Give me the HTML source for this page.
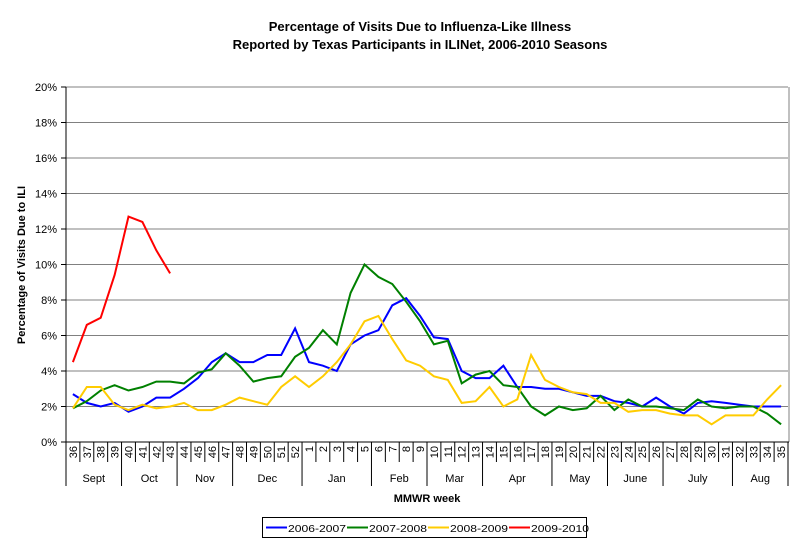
<!DOCTYPE html>
<html><head><meta charset="utf-8"><style>
body{margin:0;background:#fff;}
svg{display:block;font-family:"Liberation Sans",Arial,sans-serif;}
</style></head><body>
<svg id="c" width="800" height="545" xmlns="http://www.w3.org/2000/svg"></svg>
<script>
const s=document.getElementById('c');
const L=66,R=788,Y0=442,PX=17.75,W=(R-L)/52;
let h='';
h+='<text x="420" y="31" text-anchor="middle" font-size="13" font-weight="bold">Percentage of Visits Due to Influenza-Like Illness</text>';
h+='<text x="420" y="49" text-anchor="middle" font-size="13" font-weight="bold">Reported by Texas Participants in ILINet, 2006-2010 Seasons</text>';
for(let i=0;i<=10;i++){const y=Y0-i*2*PX;
 if(i>0)h+=`<line x1="${L}" x2="${R}" y1="${y}" y2="${y}" stroke="#808080" stroke-width="1"/>`;
 h+=`<line x1="${L-5}" x2="${L}" y1="${y}" y2="${y}" stroke="#000"/>`;
 h+=`<text x="${L-9}" y="${y+4}" text-anchor="end" font-size="11">${i*2}%</text>`;}
h+=`<line x1="${L}" x2="${L}" y1="87" y2="${Y0}" stroke="#000"/>`;
h+=`<line x1="${R+1}" x2="${R+1}" y1="87" y2="${Y0}" stroke="#808080"/>`;
h+=`<line x1="${L}" x2="${R+1}" y1="${Y0}" y2="${Y0}" stroke="#000"/>`;
h+='<text transform="translate(25,265) rotate(-90)" text-anchor="middle" font-size="11" font-weight="bold">Percentage of Visits Due to ILI</text>';
const wk=[];for(let w=36;w<=52;w++)wk.push(w);for(let w=1;w<=35;w++)wk.push(w);
const months=[['Sept',4],['Oct',4],['Nov',4],['Dec',5],['Jan',5],['Feb',4],['Mar',4],['Apr',5],['May',4],['June',4],['July',5],['Aug',4]];
let bounds=new Set([0]);let c=0;
months.forEach(m=>{const x0=L+c*W;c+=m[1];bounds.add(c);h+=`<text x="${x0+m[1]*W/2}" y="482" text-anchor="middle" font-size="11">${m[0]}</text>`;});
for(let i=0;i<=52;i++){const x=L+i*W;h+=`<line x1="${x}" x2="${x}" y1="${Y0}" y2="${bounds.has(i)?486:462}" stroke="#000"/>`;}
wk.forEach((w,i)=>{const x=L+(i+0.5)*W;h+=`<text transform="translate(${x+4},446) rotate(-90)" text-anchor="end" font-size="11">${w}</text>`;});
h+='<text x="427" y="502" text-anchor="middle" font-size="11" font-weight="bold">MMWR week</text>';
const D={
'#0000ff':[2.7,2.2,2.0,2.2,1.7,2.0,2.5,2.5,3.0,3.6,4.5,5.0,4.5,4.5,4.9,4.9,6.4,4.5,4.3,4.0,5.5,6.0,6.3,7.7,8.1,7.1,5.9,5.8,4.0,3.6,3.6,4.3,3.1,3.1,3.0,3.0,2.8,2.6,2.6,2.3,2.2,2.0,2.5,2.0,1.6,2.2,2.3,2.2,2.1,2.0,2.0,2.0],
'#008000':[1.9,2.3,2.9,3.2,2.9,3.1,3.4,3.4,3.3,3.9,4.1,5.0,4.3,3.4,3.6,3.7,4.8,5.3,6.3,5.5,8.4,10.0,9.3,8.9,7.9,6.8,5.5,5.7,3.3,3.8,4.0,3.2,3.1,2.0,1.5,2.0,1.8,1.9,2.6,1.8,2.4,2.0,2.0,1.9,1.8,2.4,2.0,1.9,2.0,2.0,1.6,1.0],
'#ffcc00':[1.9,3.1,3.1,2.1,1.8,2.1,1.9,2.0,2.2,1.8,1.8,2.1,2.5,2.3,2.1,3.1,3.7,3.1,3.7,4.5,5.5,6.8,7.1,5.8,4.6,4.3,3.7,3.5,2.2,2.3,3.1,2.0,2.4,4.9,3.5,3.1,2.8,2.7,2.2,2.2,1.7,1.8,1.8,1.6,1.5,1.5,1.0,1.5,1.5,1.5,2.4,3.2],
'#ff0000':[4.5,6.6,7.0,9.4,12.7,12.4,10.8,9.5]};
for(const k in D){h+=`<polyline fill="none" stroke="${k}" stroke-width="2" points="${D[k].map((v,i)=>(L+(i+0.5)*W).toFixed(1)+','+(Y0-v*PX).toFixed(1)).join(' ')}"/>`;}
h+='<rect x="262.5" y="517.5" width="324" height="20" fill="#fff" stroke="#000"/>';
const lg=[['#0000ff','2006-2007',266],['#008000','2007-2008',347],['#ffcc00','2008-2009',428],['#ff0000','2009-2010',509]];
lg.forEach(l=>{h+=`<line x1="${l[2]}" x2="${l[2]+21}" y1="527.5" y2="527.5" stroke="${l[0]}" stroke-width="2"/><text x="${l[2]+22}" y="532" font-size="10.5" textLength="58" lengthAdjust="spacingAndGlyphs">${l[1]}</text>`;});
s.innerHTML=h;
</script>
</body></html>
